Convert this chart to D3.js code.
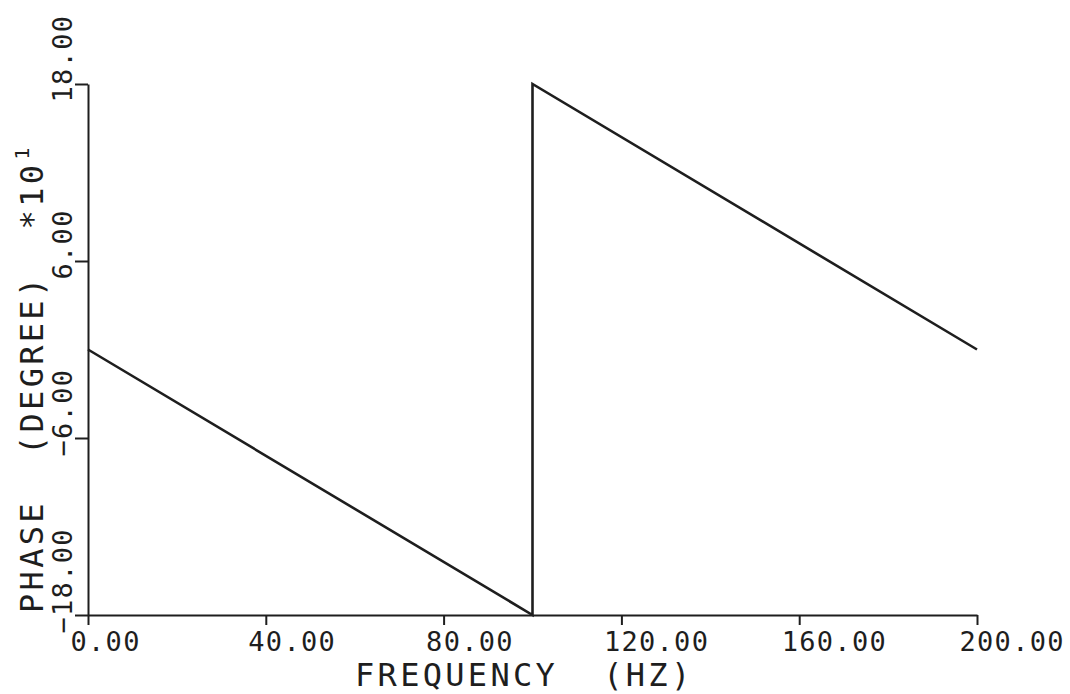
<!DOCTYPE html>
<html>
<head>
<meta charset="utf-8">
<script src="https://cdn.jsdelivr.net/npm/d3@7"></script>
<style>
  html, body { margin: 0; padding: 0; background: #fff; }
  svg { display: block; }
  text { font-family: "DejaVu Sans Mono", "Liberation Mono", monospace; fill: #1e1e1e; white-space: pre; }
</style>
</head>
<body>
<svg id="chart" width="1070" height="694"></svg>
<script>
// Phase response of a linear-phase system, wrapped to ±180 degrees
const frequency = [0, 100, 100, 200];     // Hz
const phase     = [0, -180, 180, 0];      // degrees

const xTicks = [0, 40, 80, 120, 160, 200];
const yTicks = [-180, -60, 60, 180];

const xTitle = "FREQUENCY  (HZ)";
const yTitle = "PHASE  (DEGREE)  *10";
const yExponent = "1";

const svg = d3.select("#chart");
const ink = "#1e1e1e";

const plotLeft = 88, plotRight = 977, plotTop = 84, plotBottom = 615;

const x = d3.scaleLinear().domain([0, 200]).range([plotLeft, plotRight]);
const y = d3.scaleLinear().domain([-180, 180]).range([plotBottom, plotTop]);

// x axis
const gx = svg.append("g")
  .attr("transform", `translate(0,${plotBottom})`)
  .call(d3.axisBottom(x)
    .tickValues(xTicks)
    .tickSize(10)
    .tickSizeOuter(0)
    .tickFormat(d3.format(".2f")));

gx.selectAll("text")
  .attr("text-anchor", "start")
  .attr("x", -18)
  .attr("y", 36)
  .attr("dy", 0)
  .style("font-size", "27px")
  .style("letter-spacing", "1.3px");

// y axis, labels in units of 10 degrees, written upward
const gy = svg.append("g")
  .attr("transform", `translate(${plotLeft},0)`)
  .call(d3.axisLeft(y)
    .tickValues(yTicks)
    .tickSize(13)
    .tickSizeOuter(0)
    .tickFormat(d => d3.format(".2f")(d / 10)));

gy.selectAll("text")
  .attr("text-anchor", "start")
  .attr("x", 0)
  .attr("y", 0)
  .attr("dy", 0)
  .attr("transform", "translate(-16,18) rotate(-90)")
  .style("font-size", "27px")
  .style("letter-spacing", "1.3px");

svg.selectAll(".domain, .tick line")
  .attr("stroke", ink)
  .attr("stroke-width", 2);

// phase curve
const line = d3.line()
  .x((d, i) => x(frequency[i]))
  .y(d => y(d));

svg.append("path")
  .datum(phase)
  .attr("d", line)
  .attr("fill", "none")
  .attr("stroke", ink)
  .attr("stroke-width", 2.6)
  .attr("stroke-linejoin", "miter");

// axis titles
svg.append("text")
  .attr("x", 355)
  .attr("y", 686)
  .style("font-size", "32px")
  .style("letter-spacing", "3.3px")
  .text(xTitle);

const yt = svg.append("text")
  .attr("transform", "translate(43,613) rotate(-90)")
  .style("font-size", "32px")
  .style("letter-spacing", "3.3px");
yt.append("tspan").text(yTitle);
yt.append("tspan")
  .attr("dy", -14)
  .attr("dx", 2)
  .style("font-size", "20px")
  .text(yExponent);
</script>
</body>
</html>
